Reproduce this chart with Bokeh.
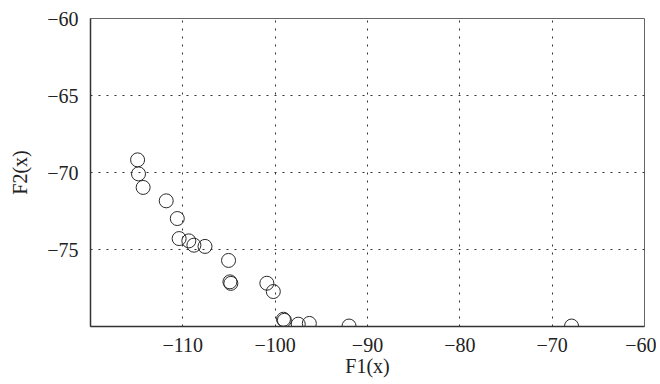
from bokeh.plotting import figure
from bokeh.models import FixedTicker, Range1d
from bokeh.embed import file_html
from bokeh.resources import INLINE

f1 = [-114.9, -114.8, -114.3, -111.8, -110.6, -110.4, -109.35, -108.8, -107.6,
      -105.05, -104.9, -104.8, -100.9, -100.2, -99.1, -99.0, -97.5, -96.3, -92.0, -67.9]
f2 = [-69.18, -70.09, -70.97, -71.84, -72.99, -74.29, -74.44, -74.72, -74.8,
      -75.71, -77.1, -77.2, -77.19, -77.73, -79.53, -79.6, -79.85, -79.8, -79.97, -79.97]

x_ticks = [-110, -100, -90, -80, -70, -60]
x_tick_labels = ["\u2212110", "\u2212100", "\u221290", "\u221280", "\u221270", "\u221260"]
y_ticks = [-75, -70, -65, -60]
y_tick_labels = ["\u221275", "\u221270", "\u221265", "\u221260"]

FONT = "Liberation Serif"

p = figure(width=656, height=380, output_backend="svg", toolbar_location=None,
           x_range=Range1d(-120, -60), y_range=Range1d(-80, -60),
           frame_width=554, frame_height=308,
           min_border_left=90, min_border_top=18, min_border_right=12, min_border_bottom=50)

p.scatter(f1, f2, marker="circle", size=14, fill_color=None, line_color="#2a2a2a", line_width=1)

p.outline_line_color = "#666666"
p.outline_line_width = 1
p.background_fill_color = "white"
p.border_fill_color = "white"

for ax in (p.xaxis[0], p.yaxis[0]):
    ax.major_tick_line_color = None
    ax.minor_tick_line_color = None
    ax.axis_line_color = "#333333"
    ax.axis_line_width = 1.5
    ax.major_label_text_font = FONT
    ax.major_label_text_font_size = "20px"
    ax.major_label_text_color = "#222222"
    ax.axis_label_text_font = FONT
    ax.axis_label_text_font_size = "20px"
    ax.axis_label_text_font_style = "normal"
    ax.axis_label_text_color = "#222222"

p.xaxis.ticker = FixedTicker(ticks=x_ticks)
p.yaxis.ticker = FixedTicker(ticks=y_ticks)
p.xaxis.major_label_overrides = dict(zip(x_ticks, x_tick_labels))
p.yaxis.major_label_overrides = dict(zip(y_ticks, y_tick_labels))
p.xaxis.axis_label = "F1(x)"
p.yaxis.axis_label = "F2(x)"
p.xaxis.major_label_standoff = 5
p.xaxis.axis_label_standoff = 0
p.yaxis.major_label_standoff = 6
p.yaxis.axis_label_standoff = 13

p.xgrid.ticker = FixedTicker(ticks=x_ticks)
p.ygrid.ticker = FixedTicker(ticks=y_ticks)
for g in (p.xgrid[0], p.ygrid[0]):
    g.grid_line_color = "#333333"
    g.grid_line_dash = "2 6"
    g.grid_line_width = 1
    g.grid_line_alpha = 1.0

open("out.html", "w").write(file_html(p, INLINE))
